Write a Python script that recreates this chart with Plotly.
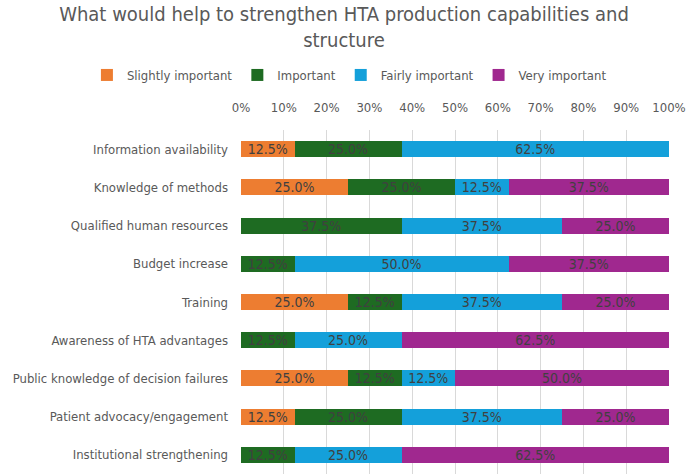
import plotly.graph_objects as go

categories = [
    "Information availability",
    "Knowledge of methods",
    "Qualified human resources",
    "Budget increase",
    "Training",
    "Awareness of HTA advantages",
    "Public knowledge of decision failures",
    "Patient advocacy/engagement",
    "Institutional strengthening",
]
slightly = [12.5, 25.0, 0.0, 0.0, 25.0, 0.0, 25.0, 12.5, 0.0]
important = [25.0, 25.0, 37.5, 12.5, 12.5, 12.5, 12.5, 25.0, 12.5]
fairly = [62.5, 12.5, 37.5, 50.0, 37.5, 25.0, 12.5, 37.5, 25.0]
very = [0.0, 37.5, 25.0, 37.5, 25.0, 62.5, 50.0, 25.0, 62.5]

series = [
    ("Slightly important", slightly, "#ED7D31"),
    ("Important", important, "#1E6B22"),
    ("Fairly important", fairly, "#14A0DA"),
    ("Very important", very, "#A0288F"),
]
tick_vals = [i / 10 for i in range(11)]
tick_text = [f"{i*10}%" for i in range(11)]

FONT = "DejaVu Sans Condensed, sans-serif"
TXT = "#404040"
GREY = "#595959"

fig = go.Figure()
for name, vals, color in series:
    fig.add_trace(go.Bar(
        y=categories,
        x=[v / 100 for v in vals],
        name=name,
        orientation="h",
        marker=dict(color=color, line=dict(width=0)),
        text=[f"{v:.1f}%" if v > 0 else "" for v in vals],
        textposition="inside",
        insidetextanchor="middle",
        textangle=0,
        textfont=dict(color=TXT, size=14, family=FONT),
        constraintext="none",
        hoverinfo="skip",
    ))

fig.update_layout(
    barmode="stack",
    width=688, height=475,
    margin=dict(l=241, r=19, t=130, b=1),
    paper_bgcolor="white",
    plot_bgcolor="white",
    bargap=0.58,
    uniformtext=dict(minsize=14, mode="show"),
    font=dict(family=FONT, color=GREY, size=13),
    title=dict(
        text="What would help to strengthen HTA production capabilities and<br>structure",
        x=0.5, xanchor="center", xref="container",
        y=1 - 21 / 475, yanchor="top", yref="container",
        font=dict(size=20, color=GREY, family=FONT),
    ),
    legend=dict(
        orientation="h",
        x=-0.36, xanchor="left", xref="paper",
        y=(474 - 75) / 344, yanchor="middle", yref="paper",
        font=dict(size=13, color=GREY, family=FONT),
        itemwidth=30,
        traceorder="normal",
    ),
    xaxis=dict(
        side="top",
        range=[0, 1],
        tickvals=tick_vals,
        ticktext=tick_text,
        showgrid=True,
        gridcolor="#D9D9D9",
        gridwidth=1,
        zeroline=False,
        showline=False,
        ticks="",
        ticklabelstandoff=14,
        tickfont=dict(size=13, color=GREY, family=FONT),
        fixedrange=True,
    ),
    yaxis=dict(
        autorange="reversed",
        categoryorder="array",
        categoryarray=categories,
        ticks="",
        ticklabelstandoff=12,
        tickfont=dict(size=13, color=GREY, family=FONT),
        showgrid=False,
    ),
)
fig.write_html("out.html")
